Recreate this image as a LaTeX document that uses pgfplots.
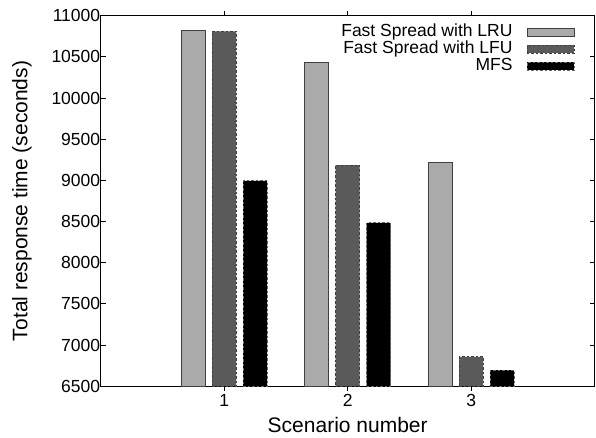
\documentclass[border=0pt]{standalone}
\usepackage{fontspec}
\setmainfont{Liberation Sans}
\usepackage{pgfplots}
\pgfplotsset{compat=1.18}
\definecolor{lru}{HTML}{AAAAAA}
\definecolor{lfu}{HTML}{5A5A5A}
\begin{document}
\begin{tikzpicture}
\begin{axis}[
  at={(0,0)}, anchor=south west,
  scale only axis, width=494bp, height=370.5bp,
  xmin=0, xmax=4, ymin=6500, ymax=11000,
  xtick={1,2,3}, ytick={6500,7000,...,11000},
  scaled y ticks=false,
  tick align=inside, major tick length=5bp,
  tick style={black, line width=0.8bp},
  /pgf/number format/assume math mode=true,
  /pgf/number format/1000 sep={},
  /pgf/number format/fixed,
  ticklabel style={font=\fontsize{17.5bp}{20bp}\selectfont},
  yticklabel style={xshift=3bp},
  label style={font=\fontsize{21bp}{25bp}\selectfont},
  xlabel={Scenario number},
  ylabel={Total response time (seconds)},
  xlabel style={at={(axis description cs:0.5,-0.1045)}, anchor=center},
  ylabel style={at={(axis description cs:-0.1593,0.5)}, anchor=center},
  axis line style={line width=0.8bp},
  ybar=7bp, bar width=24bp,
  legend image code/.code={\draw[#1] (0bp,-4bp) rectangle (47bp,4bp);},
  legend plot pos=right,
  legend cell align=right,
  legend style={at={(axis description cs:1,1)}, anchor=north east,
    xshift=-20bp, yshift=-7.8bp, draw=none, fill=none, inner sep=0pt,
    font=\fontsize{17.5bp}{20bp}\selectfont, row sep=0pt, column sep=14bp,
    nodes={inner sep=0pt, text height=12.5bp, text depth=4.5bp}},
]
\addplot[fill=lru, draw=black!75, line width=1bp, solid]
  coordinates {(1,10820) (2,10430) (3,9217)};
\addlegendentry{Fast Spread with LRU}
\addplot[fill=lfu, draw=black!75, line width=1bp, dash pattern=on 2.5bp off 2bp]
  coordinates {(1,10810) (2,9185) (3,6856)};
\addlegendentry{Fast Spread with LFU}
\addplot[fill=black, draw=black!60, line width=1bp, dash pattern=on 2.5bp off 2bp]
  coordinates {(1,8995) (2,8485) (3,6694)};
\addlegendentry{MFS}
\end{axis}
\pgfresetboundingbox
\path[use as bounding box] (-100.7bp,-51.7bp) rectangle (495.3bp,386.2bp);
\end{tikzpicture}
\end{document}
